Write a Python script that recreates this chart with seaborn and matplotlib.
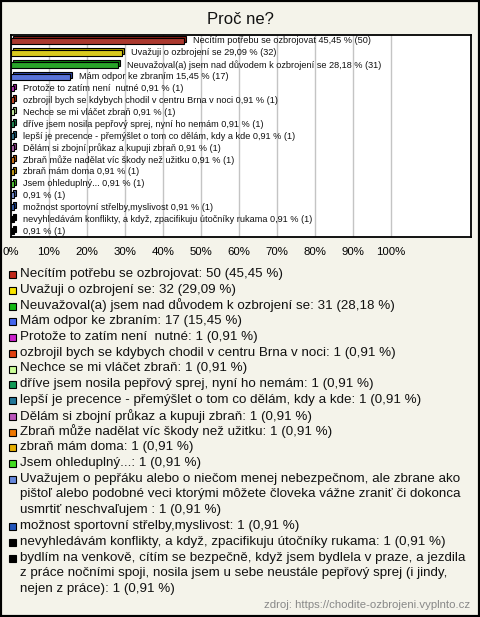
import numpy as np
import pandas as pd
import matplotlib
matplotlib.use("Agg")
import matplotlib.pyplot as plt
import matplotlib.patches as mpatches
import matplotlib.transforms as mtransforms
import matplotlib.colors as mcolors
import seaborn as sns

# ---------------- data ----------------
title = "Proč ne?"
source = "zdroj: https://chodite-ozbrojeni.vyplnto.cz"

names = [
    "Necítím potřebu se ozbrojovat",
    "Uvažuji o ozbrojení se",
    "Neuvažoval(a) jsem nad důvodem k ozbrojení se",
    "Mám odpor ke zbraním",
    "Protože to zatím není  nutné",
    "ozbrojil bych se kdybych chodil v centru Brna v noci",
    "Nechce se mi vláčet zbraň",
    "dříve jsem nosila pepřový sprej, nyní ho nemám",
    "lepší je precence - přemýšlet o tom co dělám, kdy a kde",
    "Dělám si zbojní průkaz a kupuji zbraň",
    "Zbraň může nadělat víc škody než užitku",
    "zbraň mám doma",
    "Jsem ohleduplný...",
    "Uvažujem o pepřáku alebo o niečom menej nebezpečnom, ale zbrane ako\n"
    "pištoľ alebo podobné veci ktorými môžete človeka vážne zraniť či dokonca\n"
    "usmrtiť neschvaľujem ",
    "možnost sportovní střelby,myslivost",
    "nevyhledávám konflikty, a když, zpacifikuju útočníky rukama",
    "bydlím na venkově, cítím se bezpečně, když jsem bydlela v praze, a jezdila\n"
    "z práce nočními spoji, nosila jsem u sebe neustále pepřový sprej (i jindy,\n"
    "nejen z práce)",
]
# names as shown next to the bars (long answers are left blank in the chart)
chart_names = [
    "Necítím potřebu se ozbrojovat",
    "Uvažuji o ozbrojení se",
    "Neuvažoval(a) jsem nad důvodem k ozbrojení se",
    "Mám odpor ke zbraním",
    "Protože to zatím není  nutné",
    "ozbrojil bych se kdybych chodil v centru Brna v noci",
    "Nechce se mi vláčet zbraň",
    "dříve jsem nosila pepřový sprej, nyní ho nemám",
    "lepší je precence - přemýšlet o tom co dělám, kdy a kde",
    "Dělám si zbojní průkaz a kupuji zbraň",
    "Zbraň může nadělat víc škody než užitku",
    "zbraň mám doma",
    "Jsem ohleduplný...",
    "",
    "možnost sportovní střelby,myslivost",
    "nevyhledávám konflikty, a když, zpacifikuju útočníky rukama",
    "",
]
counts = [50, 32, 31, 17, 1, 1, 1, 1, 1, 1, 1, 1, 1, 1, 1, 1, 1]
percents = [45.45, 29.09, 28.18, 15.45, 0.91, 0.91, 0.91, 0.91, 0.91,
            0.91, 0.91, 0.91, 0.91, 0.91, 0.91, 0.91, 0.91]
colors = ["#C0281A", "#F8E400", "#14B814", "#4466EE", "#CC22CC", "#E04010",
          "#CCFF99", "#119955", "#227799", "#BB55BB", "#EE7700", "#E8B000",
          "#44DD22", "#6688DD", "#2255BB", "#000000", "#000000"]
ticks = [0, 10, 20, 30, 40, 50, 60, 70, 80, 90, 100]
tick_labels = ["0%", "10%", "20%", "30%", "40%", "50%", "60%", "70%",
               "80%", "90%", "100%"]

def fmt(v):
    return f"{v:.2f}".replace(".", ",")

# ---------------- figure ----------------
BG = "#F4F3EA"
W, H = 480, 617
FONT = "Liberation Sans"
plt.rcParams["font.family"] = [FONT, "DejaVu Sans"]

fig = plt.figure(figsize=(W / 100, H / 100), dpi=100, facecolor=BG)

def fx(px):
    return px / W

def fy(py):
    return 1 - py / H

ax = fig.add_axes([fx(11), fy(237), fx(471) - fx(11), fy(35) - fy(237)])
ax.set_facecolor("white")

n = len(percents)
df = pd.DataFrame({"row": [str(i) for i in range(n)], "pct": percents})
sns.barplot(data=df, y="row", x="pct", hue="row", palette=colors,
            orient="h", width=0.5, edgecolor="black", linewidth=0.8,
            legend=False, ax=ax, zorder=3)

# 3D-like depth for each bar
shift = mtransforms.ScaledTranslation(2.0 / 100, 2.0 / 100, fig.dpi_scale_trans)
for p, c in zip(list(ax.patches), colors):
    x0, y0 = p.get_x(), p.get_y()
    w, h = p.get_width(), p.get_height()
    rgb = np.array(mcolors.to_rgb(c))
    dark = tuple(rgb * 0.7)
    shadow = mpatches.Rectangle((x0, y0), w, h, transform=ax.transData + shift,
                                facecolor=dark, edgecolor="black",
                                linewidth=0.8, zorder=2)
    ax.add_patch(shadow)

# bar labels
for i, (nm, pc, ct) in enumerate(zip(chart_names, percents, counts)):
    lab = (f"{nm} " if nm else "") + f"{fmt(pc)} % ({ct})"
    ax.annotate(lab, xy=(pc, i), xytext=(9, 0), textcoords="offset pixels",
                ha="left", va="center", fontsize=6.6, color="#111111",
                zorder=4)

ax.set_xlim(0, 121)
ax.set_xticks(ticks)
ax.set_xticklabels(tick_labels, fontsize=8.2)
ax.tick_params(axis="x", length=0, pad=7)
ax.set_yticks([])
ax.set_xlabel("")
ax.set_ylabel("")
ax.xaxis.grid(True, color="#C4C4C4", linewidth=1.0, zorder=0)
ax.set_axisbelow(True)
for s in ax.spines.values():
    s.set_color("black")
    s.set_linewidth(1.3)

# title
fig.text(fx(240), fy(19), title, ha="center", va="center", fontsize=12,
         color="#111111")

# legend (manual)
line_h = 15.75
y = 274.0
for nm, pc, ct, c in zip(names, percents, counts, colors):
    lab = f"{nm}: {ct} ({fmt(pc)} %)"
    lines = lab.split("\n")
    sq = mpatches.Rectangle((fx(9), fy(y + 4)), fx(7), 7 / H,
                            transform=fig.transFigure, facecolor=c,
                            edgecolor="black", linewidth=0.8)
    fig.patches.append(sq)
    for ln in lines:
        fig.text(fx(20), fy(y), ln, ha="left", va="center", fontsize=9.65,
                 color="#111111")
        y += line_h

# source
fig.text(fx(470), fy(605), source, ha="right", va="center", fontsize=8.2,
         color="#888888")

# outer border
fig.patches.append(mpatches.Rectangle((0, 0), 1, 1, transform=fig.transFigure,
                                      fill=False, edgecolor="black",
                                      linewidth=3))

fig.savefig("out.png", dpi=100, facecolor=BG)
